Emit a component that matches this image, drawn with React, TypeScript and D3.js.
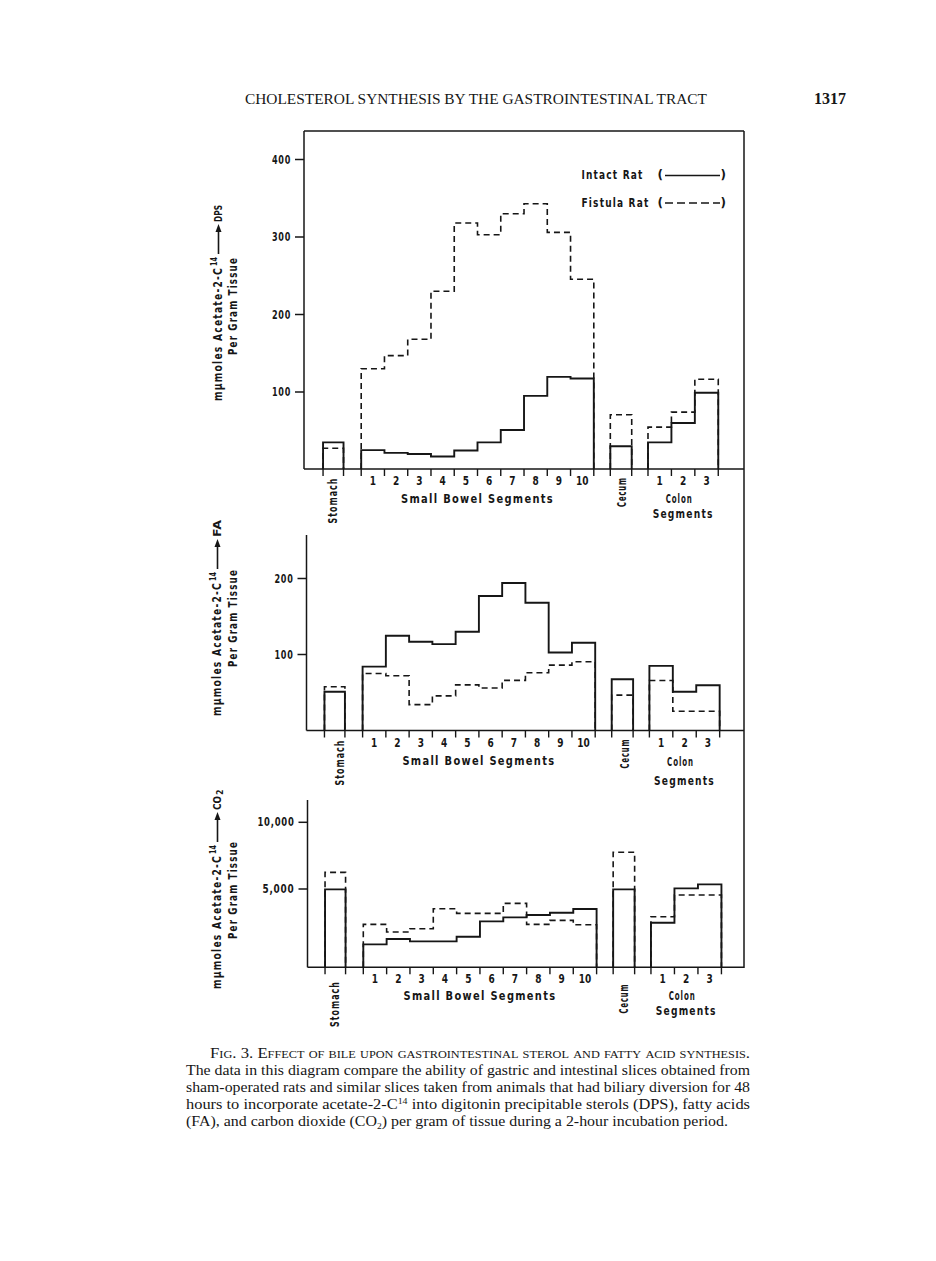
import React from "react";
import * as d3 from "d3";

// ---------- data ----------
const CATEGORIES = [
  "Stomach",
  "SB1", "SB2", "SB3", "SB4", "SB5", "SB6", "SB7", "SB8", "SB9", "SB10",
  "Cecum",
  "Colon1", "Colon2", "Colon3",
];
const SMALL_BOWEL_LABELS = ["1", "2", "3", "4", "5", "6", "7", "8", "9", "10"];
const COLON_LABELS = ["1", "2", "3"];

const DPS_INTACT = [35, 25, 21.5, 20, 16.7, 24.5, 35, 51, 95, 119.5, 117.5, 30, 35, 60, 99];
const DPS_FISTULA = [27.5, 130, 147, 168, 230, 318, 303, 330, 343, 306, 245.5, 70.7, 54.7, 74, 116.5];

const FA_INTACT = [51, 84, 124.6, 116.7, 113.6, 130, 177, 194, 168, 102.6, 115.4, 67.5, 85, 51, 59.6];
const FA_FISTULA = [57.5, 75, 72, 34, 45.6, 60, 56, 66, 76, 86, 90.4, 46.5, 65.8, 25.4, 25.4];

const CO2_INTACT = [4975, 850, 1250, 1075, 1075, 1425, 2575, 2875, 3050, 3225, 3500, 4975, 2475, 5050, 5350];
const CO2_FISTULA = [6250, 2350, 1775, 2025, 3525, 3175, 3175, 3925, 2350, 2650, 2325, 7750, 2925, 4550, 4550];

const DPS_TICKS = [100, 200, 300, 400];
const FA_TICKS = [100, 200];
const CO2_TICKS = [5000, 10000];

// ---------- layout ----------
// group layout in "segment units" (small bowel spans 0..10)
const GROUPS = [
  { from: 0, to: 1, start: -1.64, step: 0.88 },
  { from: 1, to: 11, start: 0, step: 1 },
  { from: 11, to: 12, start: 10.71, step: 0.92 },
  { from: 12, to: 15, start: 12.33, step: 1.007 },
];

const CHART_FONT = "'DejaVu Sans', 'Liberation Sans', sans-serif";
const SERIF = "'Liberation Serif', 'DejaVu Serif', serif";
const INK = "#161616";
const FRAME_RIGHT = 744;

type Panel = {
  intact: number[];
  fistula: number[];
  ticks: number[];
  fmt: (d: number) => string;
  tickLen: number[];
  yDomain: [number, number];
  yRange: [number, number];
  base: number;
  axisTop: number;
  axisX: number;
  xRange: [number, number];
  numY: number;
  sbY: number;
  colonY: number;
  segY: number;
  stomach: [number, number];
  cecum: [number, number];
  label: { x: number; start: number; tail: string; sub?: string };
  per: { x: number; cy: number };
};

const PANELS: Panel[] = [
  {
    intact: DPS_INTACT,
    fistula: DPS_FISTULA,
    ticks: DPS_TICKS,
    fmt: (d) => String(d),
    tickLen: [19],
    yDomain: [0, 400],
    yRange: [469.5, 159.5],
    base: 469,
    axisTop: 131,
    axisX: 304,
    xRange: [361.2, 593.8],
    numY: 481,
    sbY: 498.5,
    colonY: 498.5,
    segY: 513.5,
    stomach: [333, 500.5],
    cecum: [622, 492],
    label: { x: 218, start: 401, tail: "DPS" },
    per: { x: 233, cy: 306 },
  },
  {
    intact: FA_INTACT,
    fistula: FA_FISTULA,
    ticks: FA_TICKS,
    fmt: (d) => String(d),
    tickLen: [19],
    yDomain: [0, 200],
    yRange: [730.5, 578.5],
    base: 730.5,
    axisTop: 535,
    axisX: 306.5,
    xRange: [362.6, 595.2],
    numY: 743,
    sbY: 761,
    colonY: 762,
    segY: 781,
    stomach: [340, 762.5],
    cecum: [625, 753.5],
    label: { x: 217, start: 716, tail: "FA" },
    per: { x: 233, cy: 618 },
  },
  {
    intact: CO2_INTACT,
    fistula: CO2_FISTULA,
    ticks: CO2_TICKS,
    fmt: (d) => d3.format(",")(d),
    tickLen: [32, 37],
    yDomain: [0, 10000],
    yRange: [955.7, 822.3],
    base: 967.3,
    axisTop: 800,
    axisX: 307.5,
    xRange: [363.3, 596.6],
    numY: 978.5,
    sbY: 996,
    colonY: 996,
    segY: 1010.5,
    stomach: [335, 1004],
    cecum: [623.5, 998.5],
    label: { x: 217, start: 989, tail: "CO", sub: "2" },
    per: { x: 233, cy: 890 },
  },
];

const lineGen = d3.line<[number, number]>();

function groupPaths(p: Panel, values: number[]) {
  const x = d3.scaleLinear().domain([0, 10]).range(p.xRange);
  const y = d3.scaleLinear().domain(p.yDomain).range(p.yRange);
  return GROUPS.map((g) => {
    const pts: [number, number][] = [];
    const e = (k: number) => x(g.start + k * g.step);
    pts.push([e(0), p.base]);
    for (let i = g.from; i < g.to; i++) {
      const k = i - g.from;
      pts.push([e(k), y(values[i])]);
      pts.push([e(k + 1), y(values[i])]);
    }
    pts.push([e(g.to - g.from), p.base]);
    return lineGen(pts) as string;
  });
}

function edges(p: Panel) {
  const x = d3.scaleLinear().domain([0, 10]).range(p.xRange);
  const out: number[] = [];
  GROUPS.forEach((g) => {
    for (let k = 0; k <= g.to - g.from; k++) out.push(x(g.start + k * g.step));
  });
  return { out, x };
}

// narrow, letter-spaced lettering (like the Leroy lettering of the original)
function LText({
  x, y, w, size = 12, anchor = "middle", rotate = 0, children, spacing = 1.6,
}: {
  x: number; y: number; w?: number; size?: number; anchor?: string; rotate?: number; children: React.ReactNode; spacing?: number;
}) {
  return (
    <text
      transform={`translate(${x},${y}) rotate(${rotate})`}
      textAnchor={anchor}
      dominantBaseline="central"
      fontFamily={CHART_FONT}
      fontWeight="bold"
      fontSize={size}
      fill={INK}
      style={{ letterSpacing: `${spacing}px` }}
      textLength={w}
      lengthAdjust={w ? "spacingAndGlyphs" : undefined}
    >
      {children}
    </text>
  );
}

function Digit({ x, y, children }: { x: number; y: number; children: React.ReactNode }) {
  return (
    <text
      transform={`translate(${x},${y}) scale(0.72,1)`}
      textAnchor="middle"
      dominantBaseline="central"
      fontFamily={CHART_FONT}
      fontWeight="bold"
      fontSize={12.5}
      fill={INK}
    >
      {children}
    </text>
  );
}

function YLabel({ p }: { p: Panel }) {
  const L = p.label;
  return (
    <g transform={`translate(${L.x},${L.start}) rotate(-90)`} fontFamily={CHART_FONT} fontWeight="bold" fill={INK}>
      <text
        x={0}
        y={0}
        fontSize={12}
        dominantBaseline="central"
        textLength={134}
        lengthAdjust="spacingAndGlyphs"
        style={{ letterSpacing: "1.6px" }}
      >
        mμmoles  Acetate-2-C
      </text>
      <text x={135} y={-4} fontSize={8.5} dominantBaseline="central" textLength={9} lengthAdjust="spacingAndGlyphs">14</text>
      <line x1={147} x2={171} y1={0.5} y2={0.5} stroke={INK} strokeWidth={1.6} />
      <path d="M169,-2.5 L177,0.5 L169,3.5 Z" fill={INK} />
      <text x={179} y={0} fontSize={11} dominantBaseline="central" textLength={L.sub ? 14 : 17} lengthAdjust="spacingAndGlyphs">
        {L.tail}
      </text>
      {L.sub ? (
        <text x={194} y={3} fontSize={8} dominantBaseline="central">{L.sub}</text>
      ) : null}
    </g>
  );
}

function PanelView({ p }: { p: Panel }) {
  const y = d3.scaleLinear().domain(p.yDomain).range(p.yRange);
  const { out: ex, x } = edges(p);
  const solid = groupPaths(p, p.intact);
  const dashed = groupPaths(p, p.fistula);
  const sbCenters = SMALL_BOWEL_LABELS.map((_, i) => x(i + 0.5));
  const colon = GROUPS[3];
  const colonCenters = COLON_LABELS.map((_, i) => x(colon.start + (i + 0.5) * colon.step));
  const sbMid = x(5);
  const colonMid = x(colon.start + 1.5 * colon.step);
  return (
    <g>
      {/* axes */}
      <line x1={p.axisX} x2={p.axisX} y1={p.axisTop} y2={p.base} stroke={INK} strokeWidth={1.5} />
      <line x1={p.axisX} x2={FRAME_RIGHT} y1={p.base} y2={p.base} stroke={INK} strokeWidth={1.6} />
      {p.ticks.map((t, i) => (
        <g key={t}>
          <line x1={p.axisX - 9} x2={p.axisX} y1={y(t)} y2={y(t)} stroke={INK} strokeWidth={1.5} />
          <LText x={p.axisX - 13} y={y(t)} anchor="end" size={11.5} w={p.tickLen[Math.min(i, p.tickLen.length - 1)]} spacing={1}>
            {p.fmt(t)}
          </LText>
        </g>
      ))}
      {ex.map((e, i) => (
        <line key={i} x1={e} x2={e} y1={p.base} y2={p.base + 7} stroke={INK} strokeWidth={1.4} />
      ))}
      {/* bars */}
      {dashed.map((d, i) => (
        <path key={"d" + i} d={d} fill="none" stroke={INK} strokeWidth={1.6} strokeDasharray="6,4" />
      ))}
      {solid.map((d, i) => (
        <path key={"s" + i} d={d} fill="none" stroke={INK} strokeWidth={1.9} />
      ))}
      {/* x labels */}
      {SMALL_BOWEL_LABELS.map((l, i) => (
        <Digit key={l} x={sbCenters[i]} y={p.numY}>{l}</Digit>
      ))}
      {COLON_LABELS.map((l, i) => (
        <Digit key={"c" + l} x={colonCenters[i]} y={p.numY}>{l}</Digit>
      ))}
      <LText x={sbMid} y={p.sbY} w={153}>Small Bowel Segments</LText>
      <LText x={colonMid - 4} y={p.colonY} w={27}>Colon</LText>
      <LText x={colonMid} y={p.segY} w={61}>Segments</LText>
      <LText x={p.stomach[0]} y={p.stomach[1]} rotate={-90} w={46}>{CATEGORIES[0]}</LText>
      <LText x={p.cecum[0]} y={p.cecum[1]} rotate={-90} w={30}>{CATEGORIES[11]}</LText>
      <YLabel p={p} />
      <LText x={p.per.x} y={p.per.cy} rotate={-90} w={98}>Per Gram Tissue</LText>
    </g>
  );
}

export default function App() {
  return (
    <svg
      width={936}
      height={1261}
      viewBox="0 0 936 1261"
      style={{ position: "absolute", left: 0, top: 0, background: "#fff" }}
    >
      <rect x={0} y={0} width={936} height={1261} fill="#fff" />
      {/* running header */}
      <text x={245} y={104} fontFamily={SERIF} fontSize={14} fill={INK} textLength={462} lengthAdjust="spacingAndGlyphs">
        CHOLESTEROL SYNTHESIS BY THE GASTROINTESTINAL TRACT
      </text>
      <text x={846} y={104} fontFamily={SERIF} fontSize={16} fontWeight="bold" fill={INK} textAnchor="end">
        1317
      </text>

      {/* top frame */}
      <line x1={304} x2={FRAME_RIGHT} y1={131} y2={131} stroke={INK} strokeWidth={1.5} />
      <line x1={FRAME_RIGHT} x2={FRAME_RIGHT} y1={131} y2={968} stroke={INK} strokeWidth={1.5} />

      {PANELS.map((p, i) => (
        <PanelView key={i} p={p} />
      ))}

      {/* legend */}
      <LText x={581.5} y={175} anchor="start" w={62}>Intact Rat</LText>
      <LText x={581.5} y={202.5} anchor="start" w={68}>Fistula Rat</LText>
      <LText x={661} y={175}>(</LText>
      <LText x={724} y={175}>)</LText>
      <LText x={661} y={202.5}>(</LText>
      <LText x={724} y={202.5}>)</LText>
      <line x1={665} x2={720} y1={175.5} y2={175.5} stroke={INK} strokeWidth={1.6} />
      <line x1={665} x2={720} y1={203} y2={203} stroke={INK} strokeWidth={1.6} strokeDasharray="8,4" />

      {/* caption */}
      <g fontFamily={SERIF} fontSize={15} fill={INK}>
        <text x={210} y={1058} textLength={540} lengthAdjust="spacingAndGlyphs" style={{ fontVariant: "small-caps" }}>
          Fig. 3.  Effect of bile upon gastrointestinal sterol and fatty acid synthesis.
        </text>
        <text x={186} y={1075} textLength={564} lengthAdjust="spacingAndGlyphs">
          The data in this diagram compare the ability of gastric and intestinal slices obtained from
        </text>
        <text x={186} y={1092} textLength={564} lengthAdjust="spacingAndGlyphs">
          sham-operated rats and similar slices taken from animals that had biliary diversion for 48
        </text>
        <text x={186} y={1109} textLength={564} lengthAdjust="spacingAndGlyphs">
          hours to incorporate acetate-2-C<tspan fontSize={9} dy={-5}>14</tspan>
          <tspan dy={5}> into digitonin precipitable sterols (DPS), fatty acids</tspan>
        </text>
        <text x={186} y={1126} textLength={542} lengthAdjust="spacingAndGlyphs">
          (FA), and carbon dioxide (CO<tspan fontSize={9} dy={3}>2</tspan>
          <tspan dy={-3}>) per gram of tissue during a 2-hour incubation period.</tspan>
        </text>
      </g>
    </svg>
  );
}
